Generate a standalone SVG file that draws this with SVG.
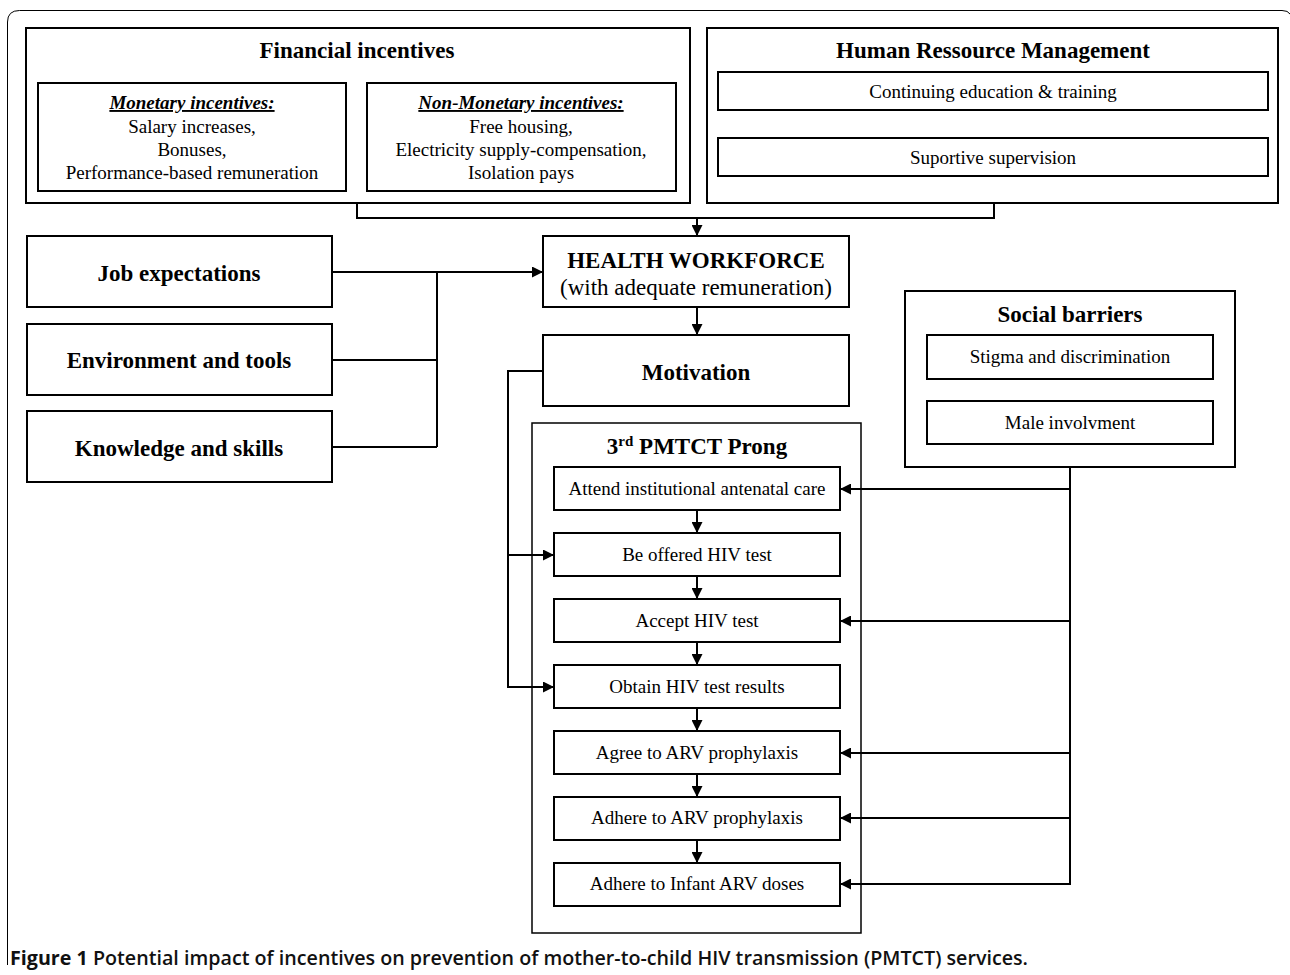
<svg xmlns="http://www.w3.org/2000/svg" width="1290" height="975" viewBox="0 0 1290 975">
<defs>
<style>
.box{fill:#fff;stroke:#000;stroke-width:2}
.frame{fill:none;stroke:#000;stroke-width:1.5}
.ln{fill:none;stroke:#000;stroke-width:2}
.t{font-family:"Liberation Serif","Times New Roman",serif;font-size:19px;fill:#000;text-anchor:middle}
.b{font-family:"Liberation Serif","Times New Roman",serif;font-size:23px;font-weight:bold;fill:#000;text-anchor:middle}
.bi{font-family:"Liberation Serif","Times New Roman",serif;font-size:19px;font-weight:bold;font-style:italic;text-decoration:underline;fill:#000;text-anchor:middle}
.cap{font-family:"Open Sans","Noto Sans","Liberation Sans",sans-serif;font-size:19px;font-weight:600;fill:#111}
</style>
<marker id="ah" viewBox="0 0 10 10" refX="10" refY="5" markerWidth="11" markerHeight="11" markerUnits="userSpaceOnUse" orient="auto">
<path d="M0,0 L10,5 L0,10 z" fill="#000"/>
</marker>
</defs>
<rect width="1290" height="975" fill="#fff"/>
<path d="M7.5,965 V22 Q7.5,10.5 19.5,10.5 H1282 Q1288,10.5 1290,14" fill="none" stroke="#000" stroke-width="1"/>

<g id="financial">
<rect class="box" x="26" y="28" width="664" height="175"/>
<text class="b" x="357" y="58">Financial incentives</text>
</g>
<g id="monetary">
<rect class="box" x="38" y="83" width="308" height="108"/>
<text class="bi" x="192" y="109">Monetary incentives:</text>
<text class="t" x="192" y="133">Salary increases,</text>
<text class="t" x="192" y="156">Bonuses,</text>
<text class="t" x="192" y="179">Performance-based remuneration</text>
</g>
<g id="nonmonetary">
<rect class="box" x="367" y="83" width="309" height="108"/>
<text class="bi" x="521" y="109">Non-Monetary incentives:</text>
<text class="t" x="521" y="133">Free housing,</text>
<text class="t" x="521" y="156">Electricity supply-compensation,</text>
<text class="t" x="521" y="179">Isolation pays</text>
</g>
<g id="hrm">
<rect class="box" x="707" y="28" width="571" height="175"/>
<text class="b" x="993" y="58">Human Ressource Management</text>
</g>
<g id="education">
<rect class="box" x="718" y="72" width="550" height="38"/>
<text class="t" x="993" y="98">Continuing education &amp; training</text>
</g>
<g id="supervision">
<rect class="box" x="718" y="138" width="550" height="38"/>
<text class="t" x="993" y="164">Suportive supervision</text>
</g>
<g id="job">
<rect class="box" x="27" y="236" width="305" height="71"/>
<text class="b" x="179" y="281">Job expectations</text>
</g>
<g id="environment">
<rect class="box" x="27" y="324" width="305" height="71"/>
<text class="b" x="179" y="368">Environment and tools</text>
</g>
<g id="knowledge">
<rect class="box" x="27" y="411" width="305" height="71"/>
<text class="b" x="179" y="456">Knowledge and skills</text>
</g>
<g id="workforce">
<rect class="box" x="543" y="236" width="306" height="71"/>
<text class="b" x="696" y="268">HEALTH WORKFORCE</text>
<text class="t" x="696" y="295" style="font-size:23px">(with adequate remuneration)</text>
</g>
<g id="motivation">
<rect class="box" x="543" y="335" width="306" height="71"/>
<text class="b" x="696" y="380">Motivation</text>
</g>
<g id="social">
<rect class="box" x="905" y="291" width="330" height="176"/>
<text class="b" x="1070" y="322">Social barriers</text>
</g>
<g id="stigma">
<rect class="box" x="927" y="335" width="286" height="44"/>
<text class="t" x="1070" y="363">Stigma and discrimination</text>
</g>
<g id="male">
<rect class="box" x="927" y="401" width="286" height="43"/>
<text class="t" x="1070" y="429">Male involvment</text>
</g>
<g id="pmtct">
<rect class="frame" x="532" y="423" width="329" height="510"/>
<text class="b" x="697" y="454">3<tspan font-size="15" dy="-8">rd</tspan><tspan dy="8"> PMTCT Prong</tspan></text>
</g>
<g id="attend">
<rect class="box" x="554" y="467" width="286" height="43"/>
<text class="t" x="697" y="495">Attend institutional antenatal care</text>
</g>
<g id="offered">
<rect class="box" x="554" y="533" width="286" height="43"/>
<text class="t" x="697" y="561">Be offered HIV test</text>
</g>
<g id="accept">
<rect class="box" x="554" y="599" width="286" height="43"/>
<text class="t" x="697" y="627">Accept HIV test</text>
</g>
<g id="obtain">
<rect class="box" x="554" y="665" width="286" height="43"/>
<text class="t" x="697" y="693">Obtain HIV test results</text>
</g>
<g id="agree">
<rect class="box" x="554" y="731" width="286" height="43"/>
<text class="t" x="697" y="759">Agree to ARV prophylaxis</text>
</g>
<g id="adhere">
<rect class="box" x="554" y="797" width="286" height="43"/>
<text class="t" x="697" y="824">Adhere to ARV prophylaxis</text>
</g>
<g id="infant">
<rect class="box" x="554" y="863" width="286" height="43"/>
<text class="t" x="697" y="890">Adhere to Infant ARV doses</text>
</g>

<g id="connectors">
<path class="ln" d="M357,203 V218 H994 V203"/>
<path class="ln" d="M697,218 V236" marker-end="url(#ah)"/>
<path class="ln" d="M332,272 H543" marker-end="url(#ah)"/>
<path class="ln" d="M437,272 V447 M332,360 H437 M332,447 H437"/>
<path class="ln" d="M697,307 V335" marker-end="url(#ah)"/>
<path class="ln" d="M543,371 H508 V687 H554" marker-end="url(#ah)"/>
<path class="ln" d="M508,555 H554" marker-end="url(#ah)"/>
<path class="ln" d="M697,510 V533" marker-end="url(#ah)"/>
<path class="ln" d="M697,576 V599" marker-end="url(#ah)"/>
<path class="ln" d="M697,642 V665" marker-end="url(#ah)"/>
<path class="ln" d="M697,708 V731" marker-end="url(#ah)"/>
<path class="ln" d="M697,774 V797" marker-end="url(#ah)"/>
<path class="ln" d="M697,840 V863" marker-end="url(#ah)"/>
<path class="ln" d="M1070,467 V884 H840" marker-end="url(#ah)"/>
<path class="ln" d="M1070,489 H840" marker-end="url(#ah)"/>
<path class="ln" d="M1070,621 H840" marker-end="url(#ah)"/>
<path class="ln" d="M1070,753 H840" marker-end="url(#ah)"/>
<path class="ln" d="M1070,818 H840" marker-end="url(#ah)"/>
</g>

<text class="cap" x="10" y="965" textLength="1018" lengthAdjust="spacingAndGlyphs"><tspan font-weight="bold">Figure 1</tspan> Potential impact of incentives on prevention of mother-to-child HIV transmission (PMTCT) services.</text>
</svg>
